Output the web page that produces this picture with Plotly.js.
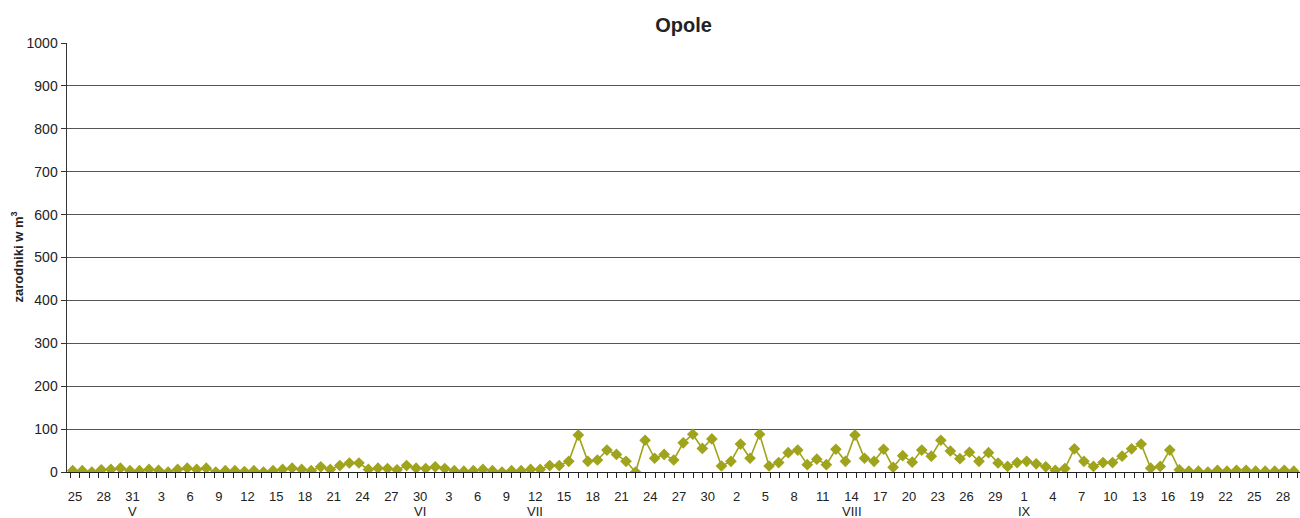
<!DOCTYPE html>
<html>
<head>
<meta charset="utf-8">
<script src="https://cdn.plot.ly/plotly-3.0.1.min.js"></script>
<style>
  html, body { margin: 0; padding: 0; background: #fff; }
  #chart { width: 1300px; height: 518px; }
</style>
</head>
<body>
<div id="chart"></div>
<script>
// Month definitions (Roman numerals as used on the axis)
const monthNames = ['V', 'VI', 'VII', 'VIII', 'IX'];
const firstDay = 25; // series starts on 25 May

// Spore counts (zarodniki w m3), one array per month
const mayValues = [3, 3, 0, 5, 6, 9, 3];
const juneValues = [3, 6, 4, 0, 6, 9, 6, 9, 0, 3, 3, 1, 3, 0, 3, 6, 9, 6, 3, 12,
                    6, 15, 21, 21, 6, 9, 8, 5, 15, 9];
const julyValues = [8, 12, 8, 3, 2, 3, 6, 3, 0, 3, 3, 6, 6, 15, 15, 25, 86, 25, 28, 51,
                    41, 25, 0, 74, 32, 41, 28, 68, 88, 55, 77];
const augustValues = [14, 25, 65, 32, 88, 14, 22, 45, 51, 17, 30, 17, 53, 25, 86, 32, 25, 53, 11, 38,
                      23, 51, 37, 74, 49, 31, 46, 25, 45, 21, 13];
const septemberValues = [22, 25, 19, 12, 4, 8, 54, 25, 13, 22, 22, 37, 54, 65, 9, 13, 51, 5, 2, 2,
                         0, 4, 2, 4, 4, 2, 2, 2, 4, 2];

// Day under which each month label is written
const monthLabelDays = [31, 30, 12, 14, 1];
const labelEvery = 3;

const monthValues = [mayValues, juneValues, julyValues, augustValues, septemberValues];

// Build the category axis
const dayNums = [], monthIdx = [], values = [];
monthValues.forEach((arr, m) => {
  const start = m === 0 ? firstDay : 1;
  arr.forEach((v, k) => {
    dayNums.push(start + k);
    monthIdx.push(m);
    values.push(v);
  });
});
const xIdx = dayNums.map((d, i) => i);

const tickvals = [], ticktext = [];
for (let i = 0; i < dayNums.length; i += labelEvery) {
  tickvals.push(i);
  ticktext.push(String(dayNums[i]));
}

const fontFamily = 'Liberation Sans, Arial, sans-serif';

// month labels placed under the chosen day of each month
const monthAnnotations = monthNames.map((name, m) => {
  const idx = dayNums.findIndex((d, i) => monthIdx[i] === m && d === monthLabelDays[m]);
  return {
    text: name,
    xref: 'x', yref: 'paper',
    x: idx, y: 0,
    xanchor: 'center', yanchor: 'top',
    yshift: -30,
    showarrow: false,
    font: { family: fontFamily, size: 13, color: '#222' }
  };
});

const lineColor = '#9fa41c';
const series = {
  x: xIdx,
  y: values,
  type: 'scatter',
  mode: 'lines+markers',
  xaxis: 'x2',
  yaxis: 'y',
  line: { color: lineColor, width: 1.6 },
  marker: { symbol: 'diamond', size: 9, color: lineColor },
  hoverinfo: 'y'
};
// empty trace that keeps the labelled category axis alive
const axisHolder = { x: [], y: [], type: 'scatter', mode: 'markers', xaxis: 'x', yaxis: 'y', hoverinfo: 'skip' };

const layout = {
  width: 1300,
  height: 518,
  margin: { l: 67, r: 0, t: 43, b: 46, pad: 0 },
  paper_bgcolor: '#ffffff',
  plot_bgcolor: '#ffffff',
  showlegend: false,
  font: { family: fontFamily, size: 13, color: '#222' },
  title: {
    text: '<b>Opole</b>',
    font: { family: fontFamily, size: 20, color: '#222' },
    x: 0.5, xref: 'paper', xanchor: 'center',
    y: 1 - 25 / 518, yref: 'container', yanchor: 'middle'
  },
  xaxis: {
    range: [-0.834, 127.78],
    tickmode: 'array',
    tickvals: tickvals,
    ticktext: ticktext,
    ticks: '',
    ticklabelstandoff: 12,
    showgrid: false,
    zeroline: false,
    showline: true,
    linecolor: '#222',
    linewidth: 1,
    tickfont: { size: 13, color: '#222' },
    minor: { ticks: 'outside', ticklen: 5, tickcolor: '#222', tickwidth: 1, tick0: -0.5, dtick: 1, showgrid: false },
    fixedrange: true
  },
  xaxis2: {
    overlaying: 'x',
    range: [-0.5975, 128.65],
    visible: false,
    showgrid: false,
    zeroline: false,
    fixedrange: true
  },
  yaxis: {
    range: [0, 1000],
    dtick: 100,
    tick0: 0,
    ticks: 'outside',
    ticklen: 5,
    tickcolor: '#333',
    showgrid: true,
    gridcolor: '#555',
    gridwidth: 1,
    zeroline: false,
    showline: true,
    linecolor: '#333',
    linewidth: 1.5,
    tickfont: { size: 14, color: '#222' },
    fixedrange: true
  },
  annotations: [{
    text: '<b>zarodniki w m<sup>3</sup></b>',
    textangle: -90,
    xref: 'paper', yref: 'paper',
    x: (17 - 67) / 1233, y: 0.5,
    xanchor: 'center', yanchor: 'middle',
    showarrow: false,
    font: { family: fontFamily, size: 13, color: '#222' }
  }].concat(monthAnnotations)
};

Plotly.newPlot('chart', [axisHolder, series], layout, { displayModeBar: false, staticPlot: true });
</script>
</body>
</html>
